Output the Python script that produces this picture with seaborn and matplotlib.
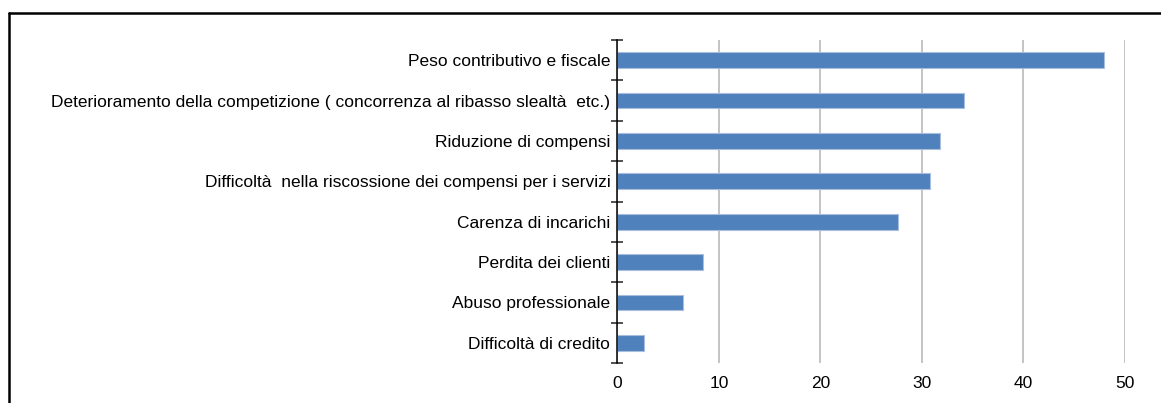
import numpy as np
import pandas as pd
import matplotlib
matplotlib.use("Agg")
import matplotlib.pyplot as plt
import seaborn as sns
from matplotlib.lines import Line2D

categories = [
    "Peso contributivo e fiscale",
    "Deterioramento della competizione ( concorrenza al ribasso slealtà  etc.)",
    "Riduzione di compensi",
    "Difficoltà  nella riscossione dei compensi per i servizi",
    "Carenza di incarichi",
    "Perdita dei clienti",
    "Abuso professionale",
    "Difficoltà di credito",
]
values = [47.9, 34.1, 31.8, 30.8, 27.6, 8.4, 6.5, 2.6]
xticks = [0, 10, 20, 30, 40, 50]

df = pd.DataFrame({"cat": categories, "val": values})

sns.set_theme(style="white")
plt.rcParams["font.family"] = ["Liberation Sans", "DejaVu Sans"]

fig = plt.figure(figsize=(11.61, 4.03), dpi=100)
ax = fig.add_axes([617.3 / 1161, 1 - 363 / 403, (1125 - 617.3) / 1161, (363 - 40) / 403])

sns.barplot(data=df, x="val", y="cat", orient="h", ax=ax, color="#4F81BD",
            width=0.39, edgecolor="#A9BEDD", linewidth=0.8, saturation=1)

ax.set_xlim(0, 50)
ax.set_ylim(len(categories) - 0.5, -0.5)
ax.set_xticks(xticks)
ax.set_xticklabels([str(t) for t in xticks], fontsize=12.5, color="black")
ax.tick_params(axis="x", length=0, pad=9)
ax.xaxis.grid(True, color="#BFBFBF", linewidth=1.3)
ax.yaxis.grid(False)
ax.set_axisbelow(True)

# category labels at centres, tick marks at the boundaries
ax.set_yticks(range(len(categories)))
ax.set_yticklabels(categories, fontsize=12.5, color="black")
ax.tick_params(axis="y", which="major", length=0, pad=5)
ax.set_yticks(np.arange(-0.5, len(categories), 1), minor=True)
ax.tick_params(axis="y", which="minor", direction="inout", length=8.5, width=1.1, color="#222222", left=True)

ax.set_xlabel("")
ax.set_ylabel("")
for side in ["top", "right", "bottom"]:
    ax.spines[side].set_visible(False)
ax.spines["left"].set_color("black")
ax.spines["left"].set_linewidth(1.1)

# outer frame (top and left edges only)
fig.add_artist(Line2D([8.5 / 1161, 1], [1 - 12.5 / 403, 1 - 12.5 / 403], transform=fig.transFigure, color="black", linewidth=1.8))
fig.add_artist(Line2D([8.5 / 1161, 8.5 / 1161], [0, 1 - 12.5 / 403], transform=fig.transFigure, color="black", linewidth=1.8))

fig.savefig("out.png", dpi=100)
